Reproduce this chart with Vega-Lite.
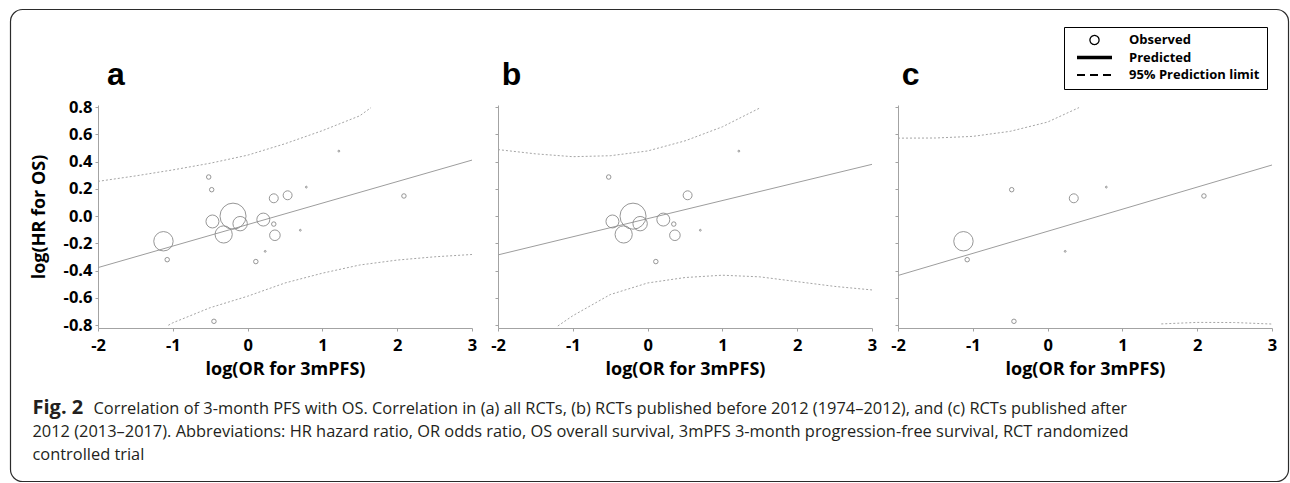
{
  "$schema": "https://vega.github.io/schema/vega-lite/v6.json",
  "background": "white",
  "padding": {"left": 9, "top": 8, "right": 2, "bottom": 2},
  "autosize": {"type": "pad"},
  "spacing": 26,
  "bounds": "flush",
  "datasets": {
    "studies": [
      {"study": 1, "x": -0.52, "y": 0.287, "w": 2.5, "period": "before"},
      {"study": 2, "x": -0.48, "y": 0.194, "w": 2.5, "period": "after"},
      {"study": 3, "x": 1.22, "y": 0.477, "w": 0.4, "period": "before"},
      {"study": 4, "x": 0.785, "y": 0.213, "w": 0.4, "period": "after"},
      {"study": 5, "x": 0.35, "y": 0.131, "w": 10, "period": "after"},
      {"study": 6, "x": 0.535, "y": 0.153, "w": 10, "period": "before"},
      {"study": 7, "x": 2.09, "y": 0.148, "w": 2.5, "period": "after"},
      {"study": 8, "x": -0.195, "y": 0.0, "w": 85, "period": "before"},
      {"study": 9, "x": -0.47, "y": -0.039, "w": 21, "period": "before"},
      {"study": 10, "x": -0.1, "y": -0.055, "w": 26, "period": "before"},
      {"study": 11, "x": -0.32, "y": -0.134, "w": 37, "period": "before"},
      {"study": 12, "x": 0.21, "y": -0.025, "w": 21, "period": "before"},
      {"study": 13, "x": 0.35, "y": -0.058, "w": 2.5, "period": "before"},
      {"study": 14, "x": 0.365, "y": -0.14, "w": 14, "period": "before"},
      {"study": 15, "x": 0.705, "y": -0.103, "w": 0.4, "period": "before"},
      {"study": 16, "x": 0.235, "y": -0.258, "w": 0.4, "period": "after"},
      {"study": 17, "x": 0.11, "y": -0.333, "w": 2.5, "period": "before"},
      {"study": 18, "x": -1.125, "y": -0.184, "w": 47, "period": "after"},
      {"study": 19, "x": -1.075, "y": -0.319, "w": 2.5, "period": "after"},
      {"study": 20, "x": -0.45, "y": -0.771, "w": 2.5, "period": "after"}
    ],
    "lines": [
      {"panel": "a", "series": "Predicted", "bound": "mid", "x": -2, "y": -0.377},
      {"panel": "a", "series": "Predicted", "bound": "mid", "x": 3, "y": 0.411},
      {"panel": "a", "series": "95% Prediction limit", "bound": "upper", "x": -2, "y": 0.255},
      {"panel": "a", "series": "95% Prediction limit", "bound": "upper", "x": -1.5, "y": 0.295},
      {"panel": "a", "series": "95% Prediction limit", "bound": "upper", "x": -1, "y": 0.339},
      {"panel": "a", "series": "95% Prediction limit", "bound": "upper", "x": -0.5, "y": 0.388},
      {"panel": "a", "series": "95% Prediction limit", "bound": "upper", "x": 0, "y": 0.447},
      {"panel": "a", "series": "95% Prediction limit", "bound": "upper", "x": 0.5, "y": 0.531},
      {"panel": "a", "series": "95% Prediction limit", "bound": "upper", "x": 1, "y": 0.627},
      {"panel": "a", "series": "95% Prediction limit", "bound": "upper", "x": 1.5, "y": 0.736},
      {"panel": "a", "series": "95% Prediction limit", "bound": "upper", "x": 1.65, "y": 0.796},
      {"panel": "a", "series": "95% Prediction limit", "bound": "lower", "x": -1.06, "y": -0.8},
      {"panel": "a", "series": "95% Prediction limit", "bound": "lower", "x": -1, "y": -0.782},
      {"panel": "a", "series": "95% Prediction limit", "bound": "lower", "x": -0.5, "y": -0.671},
      {"panel": "a", "series": "95% Prediction limit", "bound": "lower", "x": 0, "y": -0.587},
      {"panel": "a", "series": "95% Prediction limit", "bound": "lower", "x": 0.5, "y": -0.49},
      {"panel": "a", "series": "95% Prediction limit", "bound": "lower", "x": 1, "y": -0.418},
      {"panel": "a", "series": "95% Prediction limit", "bound": "lower", "x": 1.5, "y": -0.358},
      {"panel": "a", "series": "95% Prediction limit", "bound": "lower", "x": 2, "y": -0.322},
      {"panel": "a", "series": "95% Prediction limit", "bound": "lower", "x": 2.5, "y": -0.298},
      {"panel": "a", "series": "95% Prediction limit", "bound": "lower", "x": 3, "y": -0.281},
      {"panel": "b", "series": "Predicted", "bound": "mid", "x": -2, "y": -0.284},
      {"panel": "b", "series": "Predicted", "bound": "mid", "x": 3, "y": 0.38},
      {"panel": "b", "series": "95% Prediction limit", "bound": "upper", "x": -2, "y": 0.488},
      {"panel": "b", "series": "95% Prediction limit", "bound": "upper", "x": -1.5, "y": 0.457},
      {"panel": "b", "series": "95% Prediction limit", "bound": "upper", "x": -1, "y": 0.436},
      {"panel": "b", "series": "95% Prediction limit", "bound": "upper", "x": -0.5, "y": 0.443},
      {"panel": "b", "series": "95% Prediction limit", "bound": "upper", "x": 0, "y": 0.478},
      {"panel": "b", "series": "95% Prediction limit", "bound": "upper", "x": 0.5, "y": 0.552},
      {"panel": "b", "series": "95% Prediction limit", "bound": "upper", "x": 1, "y": 0.655},
      {"panel": "b", "series": "95% Prediction limit", "bound": "upper", "x": 1.5, "y": 0.793},
      {"panel": "b", "series": "95% Prediction limit", "bound": "lower", "x": -1.2, "y": -0.805},
      {"panel": "b", "series": "95% Prediction limit", "bound": "lower", "x": -1, "y": -0.73},
      {"panel": "b", "series": "95% Prediction limit", "bound": "lower", "x": -0.5, "y": -0.575},
      {"panel": "b", "series": "95% Prediction limit", "bound": "lower", "x": 0, "y": -0.49},
      {"panel": "b", "series": "95% Prediction limit", "bound": "lower", "x": 0.5, "y": -0.45},
      {"panel": "b", "series": "95% Prediction limit", "bound": "lower", "x": 1, "y": -0.433},
      {"panel": "b", "series": "95% Prediction limit", "bound": "lower", "x": 1.5, "y": -0.445},
      {"panel": "b", "series": "95% Prediction limit", "bound": "lower", "x": 2, "y": -0.48},
      {"panel": "b", "series": "95% Prediction limit", "bound": "lower", "x": 2.5, "y": -0.515},
      {"panel": "b", "series": "95% Prediction limit", "bound": "lower", "x": 3, "y": -0.541},
      {"panel": "c", "series": "Predicted", "bound": "mid", "x": -2, "y": -0.435},
      {"panel": "c", "series": "Predicted", "bound": "mid", "x": 3, "y": 0.375},
      {"panel": "c", "series": "95% Prediction limit", "bound": "upper", "x": -2, "y": 0.572},
      {"panel": "c", "series": "95% Prediction limit", "bound": "upper", "x": -1.5, "y": 0.573},
      {"panel": "c", "series": "95% Prediction limit", "bound": "upper", "x": -1, "y": 0.585},
      {"panel": "c", "series": "95% Prediction limit", "bound": "upper", "x": -0.5, "y": 0.622},
      {"panel": "c", "series": "95% Prediction limit", "bound": "upper", "x": 0, "y": 0.69},
      {"panel": "c", "series": "95% Prediction limit", "bound": "upper", "x": 0.42, "y": 0.796},
      {"panel": "c", "series": "95% Prediction limit", "bound": "lower", "x": 1.52, "y": -0.79},
      {"panel": "c", "series": "95% Prediction limit", "bound": "lower", "x": 2, "y": -0.779},
      {"panel": "c", "series": "95% Prediction limit", "bound": "lower", "x": 2.5, "y": -0.78},
      {"panel": "c", "series": "95% Prediction limit", "bound": "lower", "x": 3, "y": -0.791}
    ],
    "legendkeys": [
      {"series": "Observed"},
      {"series": "Predicted"},
      {"series": "95% Prediction limit"}
    ],
    "caption": [
      {"part": "fig", "text": "Fig. 2"},
      {"part": "line1", "text": "Correlation of 3-month PFS with OS. Correlation in (a) all RCTs, (b) RCTs published before 2012 (1974–2012), and (c) RCTs published after"},
      {"part": "rest", "text": "2012 (2013–2017). Abbreviations: HR hazard ratio, OR odds ratio, OS overall survival, 3mPFS 3-month progression-free survival, RCT randomized\ncontrolled trial"}
    ]
  },
  "hconcat": [
    {
      "width": 374,
      "height": 223,
      "layer": [
        {
          "data": {"values": [{"frame": 1}]},
          "mark": {"type": "rect", "fill": "transparent", "stroke": "#2b2b2b", "strokeWidth": 1.2, "cornerRadius": 12},
          "encoding": {
            "x": {"datum": -3.1698, "type": "quantitative"},
            "x2": {"datum": 13.916},
            "y": {"datum": 1.5152, "type": "quantitative"},
            "y2": {"datum": -1.9455}
          }
        },
        {
          "data": {"name": "lines"},
          "transform": [{"filter": "datum.panel === 'a' && datum.series === 'Predicted'"}],
          "mark": {"type": "line", "stroke": "#9d9d9d", "strokeWidth": 1},
          "encoding": {
            "x": {"field": "x", "type": "quantitative", "scale": {"domain": [-2, 3], "nice": false, "zero": false},
              "axis": {"values": [-2, -1, 0, 1, 2, 3], "tickCount": 12, "labelExpr": "replace(format(datum.value, 'd'), '\u2212', '-')", "title": "log(OR for 3mPFS)", "labelPadding": 6, "titlePadding": 7, "labelOverlap": false}},
            "y": {"field": "y", "type": "quantitative", "scale": {"domain": [-0.82, 0.815], "nice": false, "zero": false},
              "axis": {"values": [-0.8, -0.6, -0.4, -0.2, 0, 0.2, 0.4, 0.6, 0.8], "tickCount": 20, "labelExpr": "replace(format(datum.value, '.1f'), '\u2212', '-')", "title": "log(HR for OS)", "labelPadding": 3, "titlePadding": 15, "labelOverlap": false}}
          }
        },
        {
          "data": {"name": "lines"},
          "transform": [{"filter": "datum.panel === 'a' && datum.series !== 'Predicted'"}],
          "mark": {"type": "line", "stroke": "#a5a5a5", "strokeWidth": 1, "strokeDash": [2, 2]},
          "encoding": {
            "x": {"field": "x", "type": "quantitative"},
            "y": {"field": "y", "type": "quantitative"},
            "detail": {"field": "bound", "type": "nominal"}
          }
        },
        {
          "data": {"name": "studies"},
          "mark": {"type": "point", "shape": "circle", "filled": false, "stroke": "#8a8a8a", "strokeWidth": 0.9, "opacity": 1},
          "encoding": {
            "x": {"field": "x", "type": "quantitative"},
            "y": {"field": "y", "type": "quantitative"},
            "size": {"field": "w", "type": "quantitative", "scale": {"domain": [0, 100], "range": [0, 800]}, "legend": null}
          }
        },
        {
          "data": {"values": [{"label": "a"}]},
          "mark": {"type": "text", "align": "left", "baseline": "alphabetic", "font": "Liberation Sans", "fontWeight": "bold", "fontSize": 32, "color": "#000"},
          "encoding": {"text": {"field": "label"}, "x": {"datum": -1.88}, "y": {"datum": 0.9653}}
        },
        {
          "data": {"name": "caption"},
          "transform": [{"filter": "datum.part === 'fig'"}],
          "mark": {"type": "text", "align": "left", "baseline": "alphabetic", "font": "Open Sans", "fontWeight": "bold", "fontSize": 20, "color": "#231f20"},
          "encoding": {"text": {"field": "text"}, "x": {"datum": -2.8757}, "y": {"datum": -1.4528}}
        },
        {
          "data": {"name": "caption"},
          "transform": [{"filter": "datum.part === 'line1'"}],
          "mark": {"type": "text", "align": "left", "baseline": "alphabetic", "font": "Open Sans", "fontSize": 16.4, "color": "#231f20", "dx": 61},
          "encoding": {"text": {"field": "text"}, "x": {"datum": -2.8757}, "y": {"datum": -1.4528}}
        },
        {
          "data": {"name": "caption"},
          "transform": [{"filter": "datum.part === 'rest'"}],
          "mark": {"type": "text", "align": "left", "baseline": "alphabetic", "font": "Open Sans", "fontSize": 16.4, "color": "#231f20", "lineBreak": "\n", "lineHeight": 22.5},
          "encoding": {"text": {"field": "text"}, "x": {"datum": -2.8757}, "y": {"datum": -1.6192}}
        }
      ]
    },
    {
      "width": 374,
      "height": 223,
      "layer": [
        {
          "data": {"name": "lines"},
          "transform": [{"filter": "datum.panel === 'b' && datum.series === 'Predicted'"}],
          "mark": {"type": "line", "stroke": "#9d9d9d", "strokeWidth": 1},
          "encoding": {
            "x": {"field": "x", "type": "quantitative", "scale": {"domain": [-2, 3], "nice": false, "zero": false},
              "axis": {"values": [-2, -1, 0, 1, 2, 3], "tickCount": 12, "labelExpr": "replace(format(datum.value, 'd'), '\u2212', '-')", "title": "log(OR for 3mPFS)", "labelPadding": 6, "titlePadding": 7, "labelOverlap": false}},
            "y": {"field": "y", "type": "quantitative", "scale": {"domain": [-0.82, 0.815], "nice": false, "zero": false},
              "axis": {"values": [-0.8, -0.6, -0.4, -0.2, 0, 0.2, 0.4, 0.6, 0.8], "tickCount": 20, "labels": false, "title": null}}
          }
        },
        {
          "data": {"name": "lines"},
          "transform": [{"filter": "datum.panel === 'b' && datum.series !== 'Predicted'"}],
          "mark": {"type": "line", "stroke": "#a5a5a5", "strokeWidth": 1, "strokeDash": [2, 2]},
          "encoding": {
            "x": {"field": "x", "type": "quantitative"},
            "y": {"field": "y", "type": "quantitative"},
            "detail": {"field": "bound", "type": "nominal"}
          }
        },
        {
          "data": {"name": "studies"},
          "transform": [{"filter": "datum.period === 'before'"}],
          "mark": {"type": "point", "shape": "circle", "filled": false, "stroke": "#8a8a8a", "strokeWidth": 0.9, "opacity": 1},
          "encoding": {
            "x": {"field": "x", "type": "quantitative"},
            "y": {"field": "y", "type": "quantitative"},
            "size": {"field": "w", "type": "quantitative", "scale": {"domain": [0, 100], "range": [0, 800]}, "legend": null}
          }
        },
        {
          "data": {"values": [{"label": "b"}]},
          "mark": {"type": "text", "align": "left", "baseline": "alphabetic", "font": "Liberation Sans", "fontWeight": "bold", "fontSize": 32, "color": "#000"},
          "encoding": {"text": {"field": "label"}, "x": {"datum": -1.95}, "y": {"datum": 0.9653}}
        }
      ]
    },
    {
      "width": 374,
      "height": 223,
      "layer": [
        {
          "data": {"name": "lines"},
          "transform": [{"filter": "datum.panel === 'c' && datum.series === 'Predicted'"}],
          "mark": {"type": "line", "stroke": "#9d9d9d", "strokeWidth": 1},
          "encoding": {
            "x": {"field": "x", "type": "quantitative", "scale": {"domain": [-2, 3], "nice": false, "zero": false},
              "axis": {"values": [-2, -1, 0, 1, 2, 3], "tickCount": 12, "labelExpr": "replace(format(datum.value, 'd'), '\u2212', '-')", "title": "log(OR for 3mPFS)", "labelPadding": 6, "titlePadding": 7, "labelOverlap": false}},
            "y": {"field": "y", "type": "quantitative", "scale": {"domain": [-0.82, 0.815], "nice": false, "zero": false},
              "axis": {"values": [-0.8, -0.6, -0.4, -0.2, 0, 0.2, 0.4, 0.6, 0.8], "tickCount": 20, "labels": false, "title": null}}
          }
        },
        {
          "data": {"name": "lines"},
          "transform": [{"filter": "datum.panel === 'c' && datum.series !== 'Predicted'"}],
          "mark": {"type": "line", "stroke": "#a5a5a5", "strokeWidth": 1, "strokeDash": [2, 2]},
          "encoding": {
            "x": {"field": "x", "type": "quantitative"},
            "y": {"field": "y", "type": "quantitative"},
            "detail": {"field": "bound", "type": "nominal"}
          }
        },
        {
          "data": {"name": "studies"},
          "transform": [{"filter": "datum.period === 'after'"}],
          "mark": {"type": "point", "shape": "circle", "filled": false, "stroke": "#8a8a8a", "strokeWidth": 0.9, "opacity": 1},
          "encoding": {
            "x": {"field": "x", "type": "quantitative"},
            "y": {"field": "y", "type": "quantitative"},
            "size": {"field": "w", "type": "quantitative", "scale": {"domain": [0, 100], "range": [0, 800]}, "legend": null}
          }
        },
        {
          "data": {"values": [{"label": "c"}]},
          "mark": {"type": "text", "align": "left", "baseline": "alphabetic", "font": "Liberation Sans", "fontWeight": "bold", "fontSize": 32, "color": "#000"},
          "encoding": {"text": {"field": "label"}, "x": {"datum": -1.95}, "y": {"datum": 0.9653}}
        },
        {
          "data": {"name": "legendkeys"},
          "mark": {"type": "point", "filled": false, "stroke": "#000", "opacity": 0},
          "encoding": {
            "shape": {"field": "series", "type": "nominal",
              "scale": {"domain": ["Observed", "Predicted", "95% Prediction limit"], "range": ["M0.26,0A0.26,0.26,0,1,1,-0.26,0A0.26,0.26,0,1,1,0.26,0Z", "stroke", "stroke"]},
              "legend": {"orient": "none", "legendX": 166, "legendY": -78, "direction": "vertical", "title": null,
                "strokeColor": "#000", "fillColor": "#fff", "padding": 7,
                "labelFont": "Open Sans", "labelFontWeight": "bold", "labelFontSize": 13, "labelColor": "#000",
                "symbolSize": 1225, "symbolOpacity": 1, "symbolStrokeColor": "#000", "symbolOffset": 4, "labelOffset": 15, "rowPadding": 4.5, "clipHeight": 12}},
            "strokeWidth": {"field": "series", "type": "nominal",
              "scale": {"type": "ordinal", "domain": ["Observed", "Predicted", "95% Prediction limit"], "range": [1.3, 3.5, 2]},
              "legend": {"orient": "none", "legendX": 166, "legendY": -78, "direction": "vertical", "title": null,
                "strokeColor": "#000", "fillColor": "#fff", "padding": 7,
                "labelFont": "Open Sans", "labelFontWeight": "bold", "labelFontSize": 13, "labelColor": "#000",
                "symbolSize": 1225, "symbolOpacity": 1, "symbolStrokeColor": "#000", "symbolOffset": 4, "labelOffset": 15, "rowPadding": 4.5, "clipHeight": 12}},
            "strokeDash": {"field": "series", "type": "nominal",
              "scale": {"domain": ["Observed", "Predicted", "95% Prediction limit"], "range": [[1, 0], [1, 0], [8, 5]]},
              "legend": {"orient": "none", "legendX": 166, "legendY": -78, "direction": "vertical", "title": null,
                "strokeColor": "#000", "fillColor": "#fff", "padding": 7,
                "labelFont": "Open Sans", "labelFontWeight": "bold", "labelFontSize": 13, "labelColor": "#000",
                "symbolSize": 1225, "symbolOpacity": 1, "symbolStrokeColor": "#000", "symbolOffset": 4, "labelOffset": 15, "rowPadding": 4.5, "clipHeight": 12}}
          }
        }
      ]
    }
  ],
  "resolve": {"scale": {"size": "independent", "shape": "independent", "strokeWidth": "independent", "strokeDash": "independent"}},
  "config": {
    "view": {"stroke": null},
    "axis": {
      "labelFont": "Open Sans", "labelFontWeight": "bold", "labelFontSize": 16.5, "labelColor": "#000",
      "titleFont": "Open Sans", "titleFontWeight": "bold", "titleFontSize": 18, "titleColor": "#000",
      "domainColor": "#a3a3a3", "tickColor": "#a3a3a3", "tickSize": 3, "grid": false,
      "labelFlush": false, "labelOverlap": false, "labelBound": false
    }
  }
}
